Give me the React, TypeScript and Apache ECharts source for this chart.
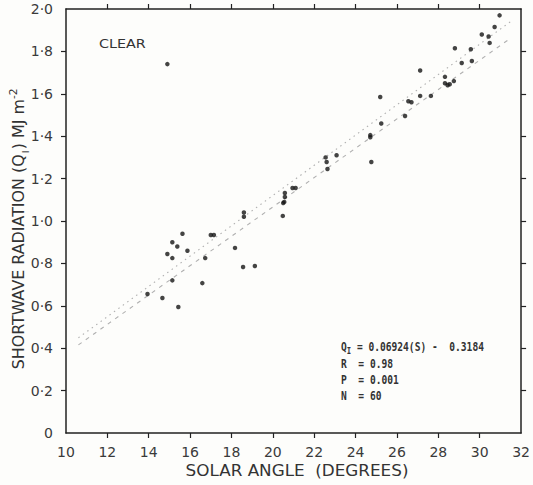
import React, { useEffect, useRef } from 'react';
import * as echarts from 'echarts';

// Axis ticks
const xTickValues = [10, 12, 14, 16, 18, 20, 22, 24, 26, 28, 30, 32];
const yTickValues = [0, 0.2, 0.4, 0.6, 0.8, 1.0, 1.2, 1.4, 1.6, 1.8, 2.0];
const xInnerTicks = [12, 14, 16, 18, 20, 22, 24, 26, 28, 30];
const yInnerTicks = [0.2, 0.4, 0.6, 0.8, 1.0, 1.2, 1.4, 1.6, 1.8];

// Observations: solar angle (degrees) and shortwave radiation (MJ m-2)
const solarAngle = [
  30.96, 30.72, 30.1, 30.43, 30.48, 28.8, 29.57, 29.13, 29.62, 27.12,
  28.32, 28.32, 28.45, 28.55, 28.75, 27.12, 27.64, 26.55, 26.7, 26.39,
  25.19, 25.24, 24.71, 24.71, 24.76, 22.55, 22.6, 23.08, 22.64, 20.95,
  21.1, 20.58, 20.58, 20.5, 20.55, 20.48,
  18.6, 18.6, 15.63, 17.0, 17.15, 15.14, 15.38, 15.87, 14.9, 15.14,
  16.73, 18.17, 18.56, 19.13, 15.14, 16.59, 13.94, 14.66, 15.43, 14.9,
];
const radiation = [
  1.97, 1.915, 1.88, 1.87, 1.84, 1.815, 1.81, 1.745, 1.755, 1.71,
  1.68, 1.65, 1.64, 1.645, 1.66, 1.59, 1.59, 1.565, 1.56, 1.495,
  1.585, 1.46, 1.405, 1.395, 1.278, 1.3, 1.278, 1.31, 1.245, 1.156,
  1.156, 1.132, 1.113, 1.085, 1.09, 1.024,
  1.04, 1.02, 0.94, 0.934, 0.934, 0.9, 0.88, 0.86, 0.844, 0.825,
  0.825, 0.873, 0.783, 0.788, 0.72, 0.707, 0.656, 0.637, 0.594, 1.74,
];

// Fitted lines (endpoints)
const fitAngle = [10.6, 31.5];
const fitRadiation = [0.4155, 1.8627];
const upperAngle = [10.6, 31.5];
const upperRadiation = [0.449, 1.941];

// Annotation text
const equationMain = ' = 0.06924(S) -  0.3184';
const statLines = ['R  = 0.98', 'P  = 0.001', 'N  = 60'];
const panelLabel = 'CLEAR';
const xAxisTitle = 'SOLAR ANGLE  (DEGREES)';

const fmt = (v: number) => (v === 0 ? '0' : v.toFixed(1).replace('.', '·'));

export default function App() {
  const ref = useRef<HTMLDivElement>(null);
  useEffect(() => {
    if (!ref.current) return;
    const chart = echarts.init(ref.current, undefined, { renderer: 'svg' });
    const axisColor = '#222';
    const labelFont = 'DejaVu Sans';
    const monoFont = 'DejaVu Sans Mono';
    const points = solarAngle.map((s, i) => [s, radiation[i]]);
    const fitData = fitAngle.map((s, i) => [s, fitRadiation[i]]);
    const upperData = upperAngle.map((s, i) => [s, upperRadiation[i]]);

    const monoStyle = {
      fontFamily: monoFont,
      fontSize: 12,
      fontWeight: 'bold',
      fill: '#333',
    };

    chart.setOption({
      animation: false,
      backgroundColor: '#fdfdfb',
      grid: { left: 66, right: 11, top: 9, bottom: 52 },
      xAxis: [
        {
          type: 'value',
          position: 'bottom',
          min: xTickValues[0],
          max: xTickValues[xTickValues.length - 1],
          interval: 2,
          axisLine: { show: true, onZero: false, lineStyle: { color: axisColor, width: 1.5 } },
          axisTick: { show: true, inside: false, length: 5, customValues: xInnerTicks, lineStyle: { color: axisColor, width: 1.2 } },
          axisLabel: {
            show: true,
            margin: 12,
            color: '#3a3a3a',
            fontSize: 14,
            fontFamily: labelFont,
            formatter: (v: number) => String(v),
          },
          splitLine: { show: false },
        },
        {
          type: 'value',
          position: 'top',
          min: xTickValues[0],
          max: xTickValues[xTickValues.length - 1],
          interval: 2,
          axisLine: { show: true, onZero: false, lineStyle: { color: axisColor, width: 1.5 } },
          axisTick: { show: true, inside: false, length: 5, customValues: xInnerTicks, lineStyle: { color: axisColor, width: 1.2 } },
          axisLabel: { show: false },
          splitLine: { show: false },
        },
      ],
      yAxis: [
        {
          type: 'value',
          position: 'left',
          min: yTickValues[0],
          max: yTickValues[yTickValues.length - 1],
          interval: 0.2,
          axisLine: { show: true, onZero: false, lineStyle: { color: axisColor, width: 1.5 } },
          axisTick: { show: true, inside: false, length: 5, customValues: yInnerTicks, lineStyle: { color: axisColor, width: 1.2 } },
          axisLabel: {
            show: true,
            margin: 13,
            color: '#3a3a3a',
            fontSize: 14,
            fontFamily: labelFont,
            padding: [8, 0, 0, 0],
            formatter: (v: number) => fmt(v),
          },
          splitLine: { show: false },
        },
        {
          type: 'value',
          position: 'right',
          min: yTickValues[0],
          max: yTickValues[yTickValues.length - 1],
          interval: 0.2,
          axisLine: { show: true, onZero: false, lineStyle: { color: axisColor, width: 1.5 } },
          axisTick: { show: true, inside: false, length: 5, customValues: yInnerTicks, lineStyle: { color: axisColor, width: 1.2 } },
          axisLabel: { show: false },
          splitLine: { show: false },
        },
      ],
      series: [
        {
          type: 'line',
          data: upperData,
          showSymbol: false,
          symbol: 'none',
          lineStyle: { color: '#b0b0b0', width: 1.1, type: [1.5, 4] },
          silent: true,
          z: 1,
        },
        {
          type: 'line',
          data: fitData,
          showSymbol: false,
          symbol: 'none',
          lineStyle: { color: '#b0b0b0', width: 1.1, type: [4, 5] },
          silent: true,
          z: 1,
        },
        {
          type: 'scatter',
          data: points,
          symbol: 'circle',
          symbolSize: 4.5,
          itemStyle: { color: '#151515' },
          z: 3,
        },
      ],
      graphic: [
        {
          type: 'text',
          x: 99,
          y: 43,
          scaleX: 1.1,
          style: {
            text: panelLabel,
            fontFamily: labelFont,
            fontSize: 13,
            fill: '#333',
            textVerticalAlign: 'middle',
          },
        },
        {
          type: 'text',
          x: 297,
          y: 471,
          scaleX: 1.12,
          style: {
            text: xAxisTitle,
            fontFamily: labelFont,
            fontSize: 15,
            fill: '#333',
            textAlign: 'center',
            textVerticalAlign: 'middle',
          },
        },
        {
          type: 'text',
          x: 19,
          y: 229,
          rotation: Math.PI / 2,
          scaleX: 1.06,
          style: {
            text: '{n|SHORTWAVE RADIATION (Q}{s|I}{n|) MJ m}{p|-2}',
            textAlign: 'center',
            textVerticalAlign: 'middle',
            rich: {
              n: { fontFamily: labelFont, fontSize: 15, fill: '#333', lineHeight: 22 },
              s: { fontFamily: labelFont, fontSize: 9, fill: '#333', verticalAlign: 'bottom', lineHeight: 22, padding: [0, 1, 0, 1] },
              p: { fontFamily: labelFont, fontSize: 10, fill: '#333', verticalAlign: 'top', lineHeight: 22 },
            },
          },
        },
        {
          type: 'text',
          x: 341,
          y: 347,
          scaleX: 0.8,
          style: {
            text: '{a|Q}{b|I}{a|' + equationMain + '}',
            textVerticalAlign: 'middle',
            rich: {
              a: { ...monoStyle, lineHeight: 16 },
              b: { ...monoStyle, fontSize: 9, verticalAlign: 'bottom', lineHeight: 16 },
            },
          },
        },
        ...statLines.map((t, i) => ({
          type: 'text',
          x: 341,
          y: 364 + i * 16,
          scaleX: 0.8,
          style: { text: t, ...monoStyle, textVerticalAlign: 'middle' },
        })),
      ],
    });
    return () => chart.dispose();
  }, []);
  return (
    <div
      ref={ref}
      style={{ position: 'fixed', left: 0, top: 0, width: 533, height: 485 }}
    />
  );
}
